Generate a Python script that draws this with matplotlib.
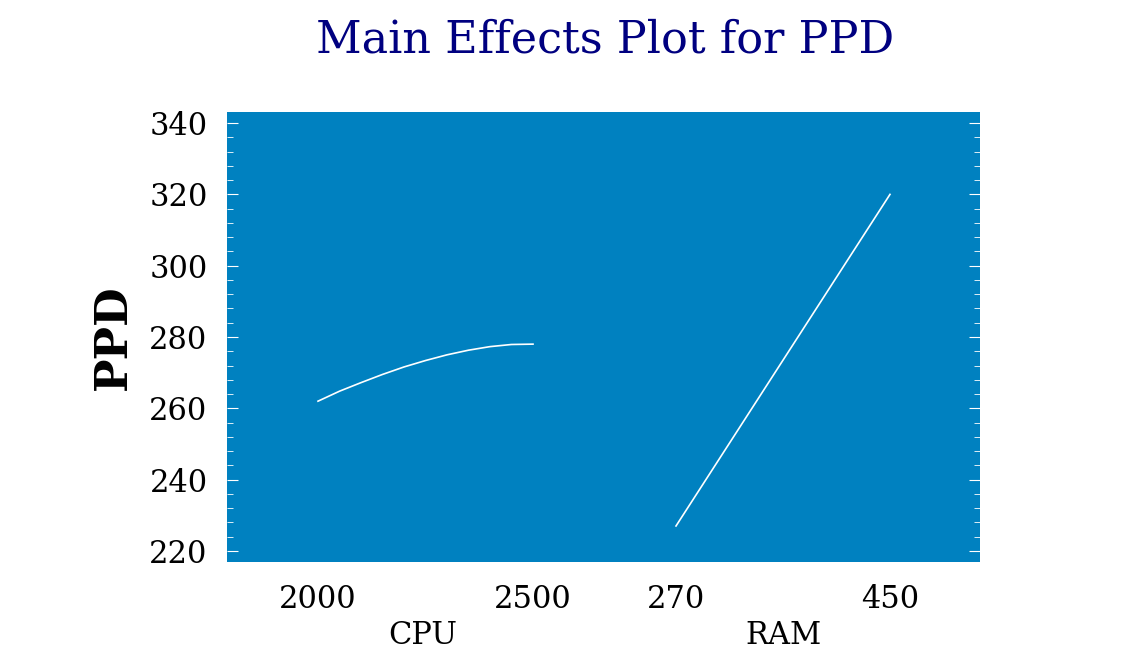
import matplotlib
matplotlib.use("Agg")
import matplotlib.pyplot as plt
import numpy as np
from matplotlib.ticker import MultipleLocator

cpu_levels = [2000, 2050, 2100, 2150, 2200, 2250, 2300, 2350, 2400, 2450, 2500]
ppd_cpu = [262.0, 264.8, 267.2, 269.5, 271.6, 273.4, 275.0, 276.3, 277.3, 277.9, 278.0]
ram_levels = [270, 450]
ppd_ram = [227.0, 320.0]
yticks = [220, 240, 260, 280, 300, 320, 340]

plt.rcParams['font.family'] = ['DejaVu Serif']
W, H = 1121, 671
fig = plt.figure(figsize=(W/100, H/100), dpi=100)
ax = fig.add_axes([227/W, 1-562/H, 753/W, 450/H])
ax.set_facecolor('#0081C0')
for s in ax.spines.values():
    s.set_visible(False)

def cpu_x(v):
    return 91 + (np.asarray(v) - 2000) / 500 * 215
def ram_x(v):
    return 449 + (np.asarray(v) - 270) / 180 * 214

ax.plot(cpu_x(cpu_levels), ppd_cpu, color='white', lw=1.2)
ax.plot(ram_x(ram_levels), ppd_ram, color='white', lw=1.2)
ax.set_xlim(0, 753)
ax.set_ylim(216.9, 343.1)
ax.set_xticks([])
ax.set_yticks(yticks)
ax.yaxis.set_minor_locator(MultipleLocator(4))
ax.tick_params(axis='y', which='both', left=True, right=True, direction='in',
               colors='white', labelcolor='black', labelsize=22, pad=14)
ax.tick_params(axis='y', which='major', length=8)
ax.tick_params(axis='y', which='minor', length=4)
ax.set_ylabel('PPD', fontsize=32, fontweight='bold', labelpad=10)

for v in [2000, 2500]:
    fig.text((227 + cpu_x(v))/W, 1-600/H, str(v), ha='center', va='center', fontsize=22)
for v in [270, 450]:
    fig.text((227 + ram_x(v))/W, 1-600/H, str(v), ha='center', va='center', fontsize=22)
fig.text(423/W, 1-636/H, 'CPU', ha='center', va='center', fontsize=22)
fig.text(783/W, 1-636/H, 'RAM', ha='center', va='center', fontsize=22)
fig.text(605/W, 1-40/H, 'Main Effects Plot for PPD', ha='center', va='center',
         fontsize=32, color='#000080')
fig.savefig('out.png', dpi=100)
